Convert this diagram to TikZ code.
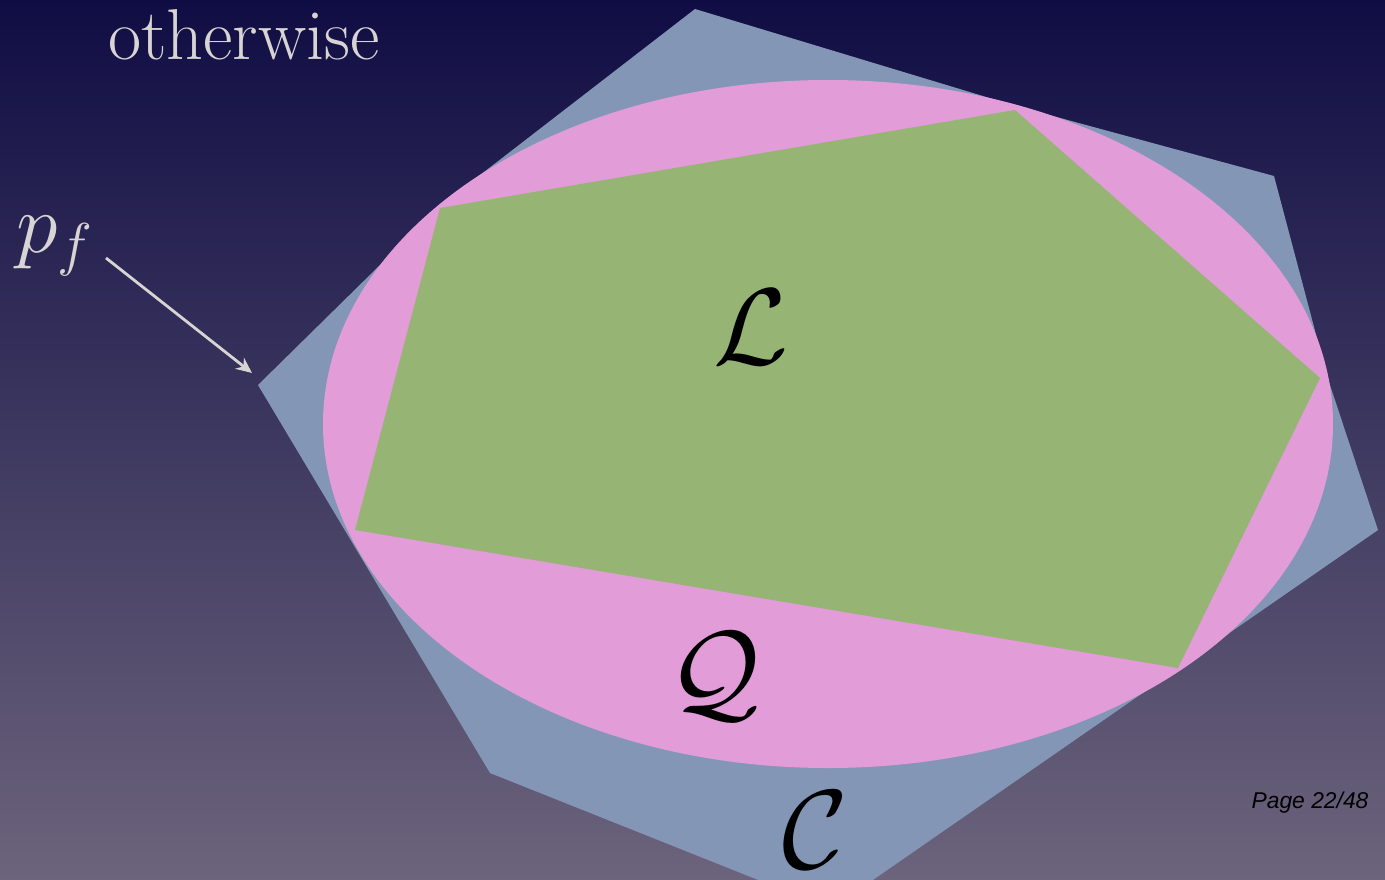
\RequirePackage{fix-cm}
\documentclass[tikz,border=0pt]{standalone}
\usepackage{fontspec}
\newfontfamily\pagefont{Liberation Sans}
\usetikzlibrary{arrows.meta}
\definecolor{bgtop}{RGB}{16,13,68}
\definecolor{bgmid}{RGB}{66,59,100}
\definecolor{bgbot}{RGB}{108,100,124}
\definecolor{cblue}{RGB}{132,150,182}
\definecolor{qpink}{RGB}{226,156,216}
\definecolor{lgreen}{RGB}{150,180,116}
\definecolor{lighttext}{RGB}{216,212,212}
\tikzset{
  lbl/.style={inner sep=0pt, text=black},
  pale/.style={inner sep=0pt, text=lighttext},
  pointer/.style={draw=lighttext, line width=1.6pt, -{Stealth[length=9pt,width=8pt]}}
}
\begin{document}
\begin{tikzpicture}[x=0.02cm,y=-0.02cm]
\useasboundingbox (0,0) rectangle (1385,879);
\clip (0,0) rectangle (1385,879);
\shade[top color=bgtop, middle color=bgmid, bottom color=bgbot] (0,0) rectangle (1385,879);
% outer polygon C
\fill[cblue] (695,9) -- (1016,106) -- (1274,176) -- (1327,376) -- (1378,530) -- (831,909)
  -- (490,773) -- (258,385) -- (440,206) -- cycle;
% ellipse Q
\fill[qpink] (828,424) ellipse [x radius=505, y radius=344];
% inner polygon L
\fill[lgreen] (440,208) -- (1015,110) -- (1320,378) -- (1178,668) -- (355,530) -- cycle;
% labels
\node[pale, font=\fontsize{41}{46}\selectfont] (otherwise) at (244,35) {otherwise};
\node[pale, font=\fontsize{48}{54}\selectfont] (pf) at (55,246) {$p_f$};
\node[lbl, font=\fontsize{62}{68}\selectfont] (L) at (751,327) {$\mathcal{L}$};
\node[lbl, font=\fontsize{64}{70}\selectfont] (Q) at (714,677) {$\mathcal{Q}$};
\node[lbl, font=\fontsize{64}{70}\selectfont] (C) at (815,830) {$\mathcal{C}$};
\node[lbl, font=\pagefont\itshape\fontsize{13}{15}\selectfont] (page) at (1310,803) {Page 22/48};
% arrow
\coordinate (tail) at (106,258);
\coordinate (tip) at (252,373);
\draw[pointer] (tail) -- (tip);
\end{tikzpicture}
\end{document}
